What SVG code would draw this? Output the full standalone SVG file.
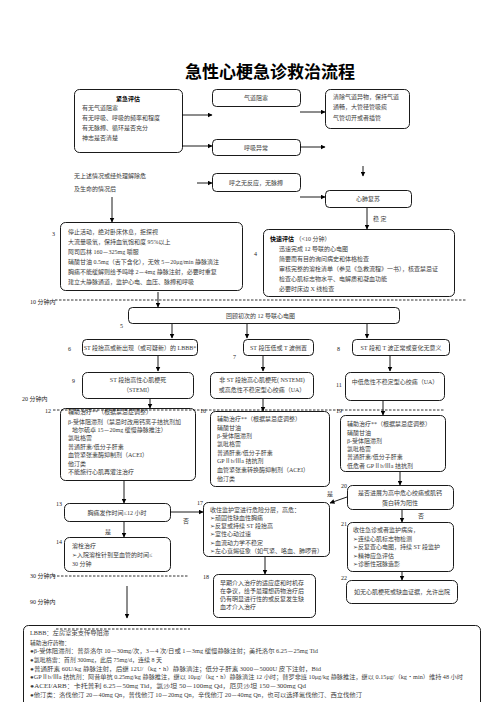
<svg xmlns="http://www.w3.org/2000/svg" width="496" height="702" viewBox="0 0 496 702">
<defs>
<marker id="ah" viewBox="0 0 10 10" refX="9" refY="5" markerWidth="5" markerHeight="5" orient="auto" markerUnits="userSpaceOnUse"><path d="M0,0 L10,5 L0,10 z" fill="#000"/></marker>
</defs>
<style>
text{font-family:"Liberation Serif","Noto Sans CJK SC",serif;font-size:6px;fill:#3a3a3a}
.b{fill:#fff;stroke:#000;stroke-width:0.9}
.c{text-anchor:middle}
.bd{font-weight:bold;fill:#000}
.lb{font-size:6px;fill:#222}
.d{stroke:#000;stroke-width:0.8;stroke-dasharray:2.5,1.5;fill:none}
.cn line,.cn path{stroke:#000;stroke-width:0.9;fill:none;marker-end:url(#ah)}
.sm{font-size:5.6px}
</style>
<rect width="496" height="702" fill="#fff"/>
<text x="270" y="78" class="c bd" style="font-family:'Noto Sans CJK SC',sans-serif;font-size:17px">急性心梗急诊救治流程</text>

<g id="n1"><rect class="b" x="74.5" y="89.5" width="108" height="63" rx="5"/>
<text x="128" y="101" class="c bd">紧急评估</text>
<text x="82" y="110">有无气道阻塞</text><text x="82" y="120">有无呼吸、呼吸的频率和程度</text><text x="82" y="130">有无脉搏、循环是否充分</text><text x="82" y="140">神志是否清楚</text></g>
<g id="n_airway"><rect class="b" x="212.5" y="89.5" width="88" height="17" rx="4"/><text x="256" y="100" class="c">气道阻塞</text></g>
<g id="n_clear"><rect class="b" x="325.5" y="89.5" width="84" height="39" rx="5"/>
<text x="333" y="99">清除气道异物，保持气道</text><text x="333" y="109">通畅，大管径管吸痰</text><text x="333" y="120">气管切开或者插管</text></g>
<g id="n_breath"><rect class="b" x="212.5" y="139.5" width="88" height="16" rx="4"/><text x="256" y="149.5" class="c">呼吸异常</text></g>
<g id="n_none"><text x="74" y="178">无上述情况或经处理解除危</text><text x="74" y="191">及生命的情况后</text></g>
<g id="n_noresp"><rect class="b" x="212.5" y="173.5" width="88" height="18" rx="4"/><text x="256" y="185" class="c">呼之无反应，无脉搏</text></g>
<g id="n_cpr"><rect class="b" x="325.5" y="190.5" width="86" height="17" rx="4"/><text x="368" y="201" class="c">心肺复苏</text></g>
<text x="373" y="221">稳  定</text>

<g id="n3"><text x="52" y="236" class="lb">3</text><rect class="b" x="60.5" y="222.5" width="182" height="68" rx="5"/>
<text x="68" y="234">停止活动，绝对卧床休息，拒探视</text><text x="68" y="244">大流量吸氧，保持血氧饱和度 95%以上</text><text x="68" y="254">阿司匹林 160－325mg 嚼服</text><text x="68" y="264">硝酸甘油 0.5mg（舌下含化），无效 5－20μg/min 静脉滴注</text><text x="68" y="274">胸痛不能缓解则给予吗啡 2－4mg 静脉注射，必要时重复</text><text x="68" y="284">建立大静脉通道，监护心电、血压、脉搏和呼吸</text></g>
<g id="n4"><text x="254" y="256" class="lb">4</text><rect class="b" x="263.5" y="229.5" width="191" height="67" rx="5"/>
<text x="270" y="241"><tspan class="bd">快速评估</tspan> （&lt;10 分钟）</text><text x="279" y="251">迅速完成 12 导联的心电图</text><text x="279" y="261">简要而有目的询问病史和体格检查</text><text x="279" y="271">审核完整的溶栓清单（参见《急救流程》一书），核查禁忌证</text><text x="279" y="281">检查心肌标志物水平、电解质和凝血功能</text><text x="279" y="291">必要时床边 X 线检查</text></g>

<text x="30" y="304" class="lb">10 分钟内</text>
<line class="d" x1="55" y1="300" x2="467" y2="300"/>
<g id="n5"><text x="120" y="328" class="lb">5</text><rect class="b" x="128.5" y="307.5" width="271" height="16" rx="4"/><text x="226" y="318">回顾初次的 12 导联心电图</text></g>

<g id="n6"><text x="68" y="351" class="lb">6</text><rect class="b" x="82.5" y="339.5" width="115" height="16" rx="4"/><text x="140" y="349.5" class="c">ST 段抬高或新出现（或可疑新）的 LBBB*</text></g>
<g id="n7"><text x="233" y="359" class="lb">7</text><rect class="b" x="243.5" y="339.5" width="70" height="16" rx="4"/><text x="278.5" y="349.5" class="c">ST 段压低或 T 波倒置</text></g>
<g id="n8"><text x="337" y="351" class="lb">8</text><rect class="b" x="352.5" y="339.5" width="97" height="16" rx="4"/><text x="401" y="349.5" class="c">ST 段和 T 波正常或变化无意义</text></g>

<g id="n9"><text x="72" y="383" class="lb">9</text><rect class="b" x="82.5" y="372.5" width="111" height="26" rx="5"/><text x="138" y="382" class="c">ST 段抬高性心肌梗死</text><text x="138" y="392" class="c">（STEMI）</text></g>
<g id="n10"><rect class="b" x="210.5" y="372.5" width="103" height="26" rx="5"/><text x="262" y="382" class="c">非 ST 段抬高心肌梗死( NSTEMI)</text><text x="262" y="392" class="c">或高危性不稳定型心绞痛（UA）</text></g>
<g id="n11"><text x="336" y="387" class="lb">11</text><rect class="b" x="345.5" y="372.5" width="99" height="28" rx="5"/><text x="395" y="384" class="c">中低危性不稳定型心绞痛（UA）</text></g>

<text x="22" y="401" class="lb">20 分钟内</text>
<g id="n12"><text x="45" y="413" class="lb">12</text><rect class="b" x="60.5" y="408.5" width="135" height="72" rx="5"/>
<text x="68" y="414">辅助治疗**（根据禁忌症调整）</text><text x="68" y="424">β-受体阻滞剂（禁忌时改用钙离子拮抗剂加</text><text x="72" y="431.5">地尔硫卓 15－20mg 缓慢静脉推注）</text><text x="68" y="440">氯吡格雷</text><text x="68" y="448.5">普通肝素/低分子肝素</text><text x="68" y="457">血管紧张素酶抑制剂（ACEI）</text><text x="68" y="465.5">他汀类</text><text x="68" y="474">不能施行心肌再灌注治疗</text></g>
<g id="n15"><text x="200" y="413" class="lb">16</text><rect class="b" x="210.5" y="411.5" width="119" height="75" rx="5"/>
<text x="217" y="421">辅助治疗**（根据禁忌症调整）</text><text x="217" y="429.5">硝酸甘油</text><text x="217" y="438">β-受体阻滞剂</text><text x="217" y="446">氯吡格雷</text><text x="217" y="454.5">普通肝素/低分子肝素</text><text x="217" y="463">GPⅡb/Ⅲa 拮抗剂</text><text x="217" y="472">血管紧张素转换酶抑制剂（ACEI）</text><text x="217" y="480.5">他汀类</text></g>
<g id="n19"><text x="336" y="413" class="lb">19</text><rect class="b" x="340.5" y="415.5" width="105" height="56" rx="5"/>
<text x="347" y="426">辅助治疗**（根据禁忌症调整）</text><text x="347" y="434.5">硝酸甘油</text><text x="347" y="443">β-受体阻滞剂</text><text x="347" y="450.5">氯吡格雷</text><text x="347" y="459">普通肝素/低分子肝素</text><text x="347" y="467.5">低危者 GPⅡb/Ⅲa 拮抗剂</text></g>
<line class="d" x1="53" y1="410" x2="444" y2="410"/>

<g id="n13"><text x="56" y="506" class="lb">13</text><rect class="b" x="64.5" y="503.5" width="106" height="18" rx="5"/><text x="117" y="515" class="c">胸痛发作时间≤12 小时</text></g>
<text x="183" y="523">否</text><text x="105" y="534">是</text>
<g id="n14"><text x="56" y="544" class="lb">14</text><rect class="b" x="64.5" y="537.5" width="106" height="34" rx="5"/>
<text x="72" y="548">溶栓治疗</text><text x="72" y="556.5">➢入院溶栓针到至血管的时间≤</text><text x="72" y="566">30 分钟</text></g>
<g id="n17"><text x="197" y="505" class="lb">17</text><rect class="b" x="203.5" y="502.5" width="126" height="54" rx="5"/>
<text x="210" y="512">收住监护室进行危险分层，高危：</text><text x="210" y="520">➢顽固性缺血性胸痛</text><text x="210" y="528">➢反复或持续 ST 段抬高</text><text x="210" y="536">➢室性心动过速</text><text x="210" y="544.5">➢血流动力学不稳定</text><text x="210" y="553">➢左心衰竭征象（如气紧、咯血、肺啰音）</text></g>
<g id="n18"><text x="203" y="579" class="lb">18</text><rect class="b" x="213.5" y="574.5" width="102" height="43" rx="5"/>
<text x="220" y="585">早期介入治疗的适应症和时机存</text><text x="220" y="593">在争议，给予最理想药物治疗后</text><text x="220" y="601">仍有明显进行性的或反复发生缺</text><text x="220" y="609">血才介入治疗</text></g>
<g id="n20"><text x="341" y="488" class="lb">20</text><rect class="b" x="347.5" y="485.5" width="106" height="24" rx="5"/><text x="400" y="495" class="c">是否进展为高中危心绞痛或肌钙</text><text x="400" y="505" class="c">蛋白转为阳性</text></g>
<text x="327" y="496">是</text><text x="418" y="518">否</text>
<g id="n21"><text x="341" y="526" class="lb">21</text><rect class="b" x="347.5" y="522.5" width="106" height="49" rx="5"/>
<text x="353" y="532">收住急诊或者监护病房，</text><text x="353" y="541">➢连续心肌标志物检测</text><text x="353" y="549">➢反复查心电图，持续 ST 段监护</text><text x="353" y="558">➢精神应急评估</text><text x="353" y="566">➢诊断性冠脉造影</text></g>
<g id="n22"><text x="341" y="580" class="lb">22</text><rect class="b" x="346.5" y="580.5" width="111" height="23" rx="5"/><text x="402" y="594" class="c">如无心肌梗死或缺血证据，允许出院</text></g>

<text x="30" y="578" class="lb">30 分钟内</text>
<line class="d" x1="53" y1="576" x2="188" y2="576"/>
<text x="30" y="604" class="lb">90 分钟内</text>

<g id="notes"><rect class="b" x="23.5" y="625.5" width="457" height="90" rx="5"/>
<line class="d" x1="56" y1="629" x2="190" y2="629"/>
<text x="30" y="635" class="sm" textLength="79" lengthAdjust="spacingAndGlyphs">LBBB：左房室束支传导阻滞</text>
<text x="30" y="645" class="sm" textLength="40" lengthAdjust="spacingAndGlyphs">辅助治疗药物：</text>
<text x="30" y="653" class="sm" textLength="288" lengthAdjust="spacingAndGlyphs">●β-受体阻滞剂：普萘洛尔 10－30mg/次，3－4 次/日或 1－3mg 缓慢静脉注射；美托洛尔 6.25－25mg Tid</text>
<text x="30" y="662" class="sm" textLength="132" lengthAdjust="spacingAndGlyphs">●氯吡格雷：首剂 300mg，此后 75mg/d，连续 8 天</text>
<text x="30" y="670.5" class="sm" textLength="291" lengthAdjust="spacingAndGlyphs">●普通肝素 60U/kg 静脉注射，后继 12U/（kg・h）静脉滴注；低分子肝素 3000－5000U 皮下注射，Bid</text>
<text x="30" y="679" class="sm" textLength="433" lengthAdjust="spacingAndGlyphs">●GPⅡb/Ⅲa 拮抗剂：阿昔单抗 0.25mg/kg 静脉推注，继以 10μg/（kg・h）静脉滴注 12 小时；替罗非班 10μg/kg 静脉推注，继以 0.15μg/（kg・min）维持 48 小时</text>
<text x="30" y="688" class="sm" textLength="276" lengthAdjust="spacingAndGlyphs">●ACEI/ARB：卡托普利 6.25－50mg Tid，氯沙坦 50－100mg Qd，厄贝沙坦 150－300mg Qd</text>
<text x="30" y="696.5" class="sm" textLength="332" lengthAdjust="spacingAndGlyphs">●他汀类：洛伐他汀 20－40mg Qn，普伐他汀 10－20mg Qn，辛伐他汀 20－40mg Qn，也可以选择氟伐他汀、西立伐他汀</text></g>

<g id="connectors" class="cn">
<line x1="182" y1="115" x2="212" y2="115"/>
<line x1="182" y1="146" x2="212" y2="146"/>
<line x1="300" y1="112" x2="325" y2="112"/>
<line x1="300" y1="147" x2="325" y2="147"/>
<line x1="363" y1="166" x2="363" y2="176"/>
<line x1="197" y1="183" x2="212" y2="183"/>
<line x1="300" y1="197" x2="325" y2="197"/>
<line x1="112" y1="197" x2="112" y2="222"/>
<line x1="367" y1="208" x2="367" y2="229"/>
<line x1="158" y1="292" x2="158" y2="307"/>
<line x1="172" y1="324" x2="172" y2="338"/>
<line x1="247" y1="324" x2="247" y2="338"/>
<line x1="367" y1="324" x2="367" y2="338"/>
<line x1="158" y1="356" x2="158" y2="371"/>
<line x1="263" y1="356" x2="263" y2="371"/>
<line x1="390" y1="356" x2="390" y2="371"/>
<line x1="150" y1="399" x2="150" y2="408"/>
<line x1="263" y1="399" x2="263" y2="411"/>
<line x1="383" y1="401" x2="383" y2="415"/>
<line x1="124" y1="481" x2="124" y2="503"/>
<line x1="170" y1="512" x2="203" y2="512"/>
<line x1="124" y1="522" x2="124" y2="537"/>
<line x1="400" y1="472" x2="400" y2="485"/>
<line x1="347" y1="497" x2="330" y2="503"/>
<line x1="402" y1="510" x2="402" y2="522"/>
<line x1="402" y1="572" x2="402" y2="580"/>
<line x1="265" y1="557" x2="265" y2="574"/>
<line x1="127" y1="586" x2="127" y2="618"/>
</g>
</svg>
